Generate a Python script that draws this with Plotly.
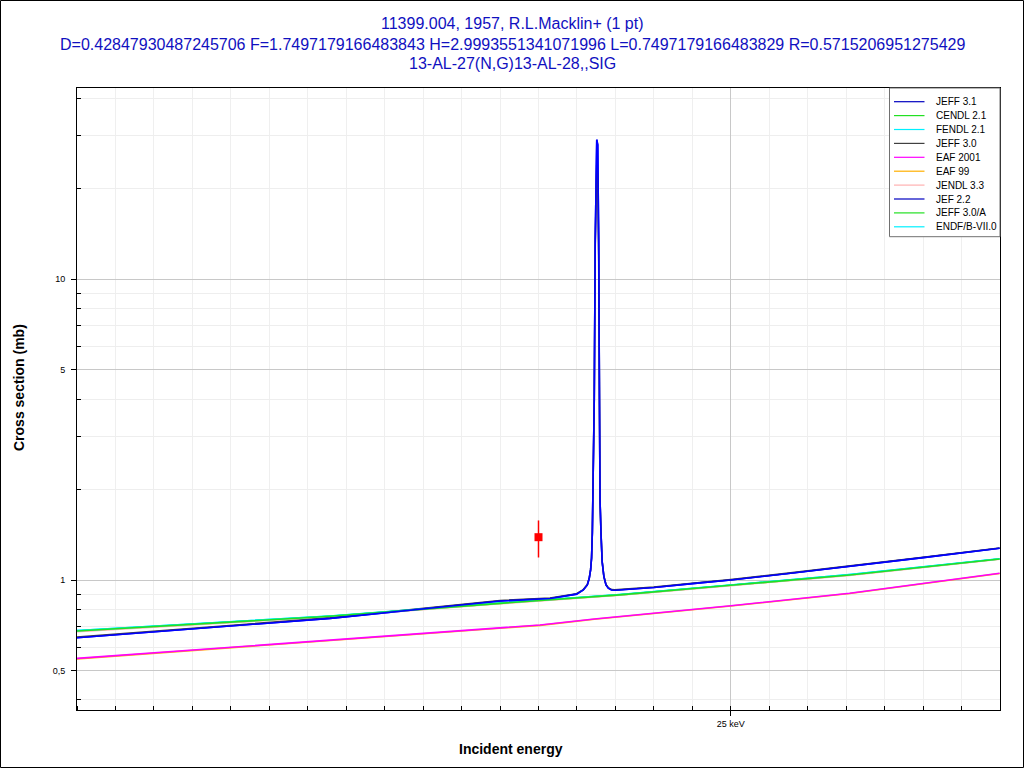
import plotly.graph_objects as go

# ---------------- data (energies in keV, cross sections in mb) ----------------
e_res = [21.6, 22.917, 23.8, 24.06, 24.198, 24.233, 24.254, 24.264, 24.271, 24.276,
         24.280, 24.283, 24.290, 24.295, 24.299, 24.303, 24.308, 24.313, 24.317, 24.320,
         24.325, 24.331, 24.340, 24.351, 24.363, 24.380, 24.397, 24.423, 24.60, 24.839,
         25.0, 25.30, 25.618, 26.0, 26.398]
jeff31_sig = [0.644, 0.747, 0.853, 0.870, 0.899, 0.928, 0.965, 1.015, 1.082, 1.186,
              1.436, 1.849, 4.0, 13.5, 25.0, 29.1, 28.0, 13.5, 4.0, 1.849,
              1.436, 1.153, 1.028, 0.965, 0.941, 0.928, 0.926, 0.928, 0.946, 0.980,
              1.002, 1.053, 1.110, 1.189, 1.277]
jeff30_sig = [0.647, 0.750, 0.856, 0.873, 0.902, 0.931, 0.968, 1.018, 1.085, 1.190,
              1.440, 1.850, 4.0, 13.0, 23.5, 24.0, 21.6, 12.0, 4.0, 1.850,
              1.440, 1.156, 1.031, 0.968, 0.944, 0.931, 0.929, 0.931, 0.949, 0.983,
              1.005, 1.056, 1.113, 1.192, 1.280]
jef22_sig = jeff31_sig

e_smooth = [21.6, 22.917, 23.8, 24.423, 25.0, 25.618, 26.398]
cendl21_sig = [0.678, 0.759, 0.838, 0.894, 0.962, 1.041, 1.177]
fendl21_sig = [0.680, 0.761, 0.840, 0.897, 0.964, 1.044, 1.179]
jendl33_sig = [0.675, 0.756, 0.835, 0.892, 0.959, 1.038, 1.174]
jeff30a_sig = [0.678, 0.759, 0.838, 0.894, 0.962, 1.041, 1.177]
endfb7_sig = [0.680, 0.761, 0.840, 0.897, 0.964, 1.044, 1.179]

e_eaf = [21.6, 22.917, 24.008, 24.29, 24.839, 25.0, 25.618, 26.398]
eaf2001_sig = [0.550, 0.633, 0.710, 0.7435, 0.803, 0.823, 0.905, 1.055]
eaf99_sig = [0.548, 0.631, 0.708, 0.742, 0.801, 0.821, 0.903, 1.053]

exp_e = [24.0]
exp_sig = [1.39]
exp_err_plus = [0.19]
exp_err_minus = [0.20]

series = [  # legend order
    ("JEFF 3.1", e_res, jeff31_sig, "#0000ff", "#0000c0"),
    ("CENDL 2.1", e_smooth, cendl21_sig, "#22e022", "#22e022"),
    ("FENDL 2.1", e_smooth, fendl21_sig, "#00f0ff", "#00f0ff"),
    ("JEFF 3.0", e_res, jeff30_sig, "#404040", "#404040"),
    ("EAF 2001", e_eaf, eaf2001_sig, "#ff00ff", "#ff00ff"),
    ("EAF 99", e_eaf, eaf99_sig, "#ffb000", "#ffb000"),
    ("JENDL 3.3", e_smooth, jendl33_sig, "#ffb0b0", "#ffb0b0"),
    ("JEF 2.2", e_res, jef22_sig, "#0000ff", "#0000c0"),
    ("JEFF 3.0/A", e_smooth, jeff30a_sig, "#22e022", "#22e022"),
    ("ENDF/B-VII.0", e_smooth, endfb7_sig, "#00f0ff", "#00f0ff"),
]

title_lines = [
    "11399.004, 1957, R.L.Macklin+ (1 pt)",
    "D=0.42847930487245706 F=1.7497179166483843 H=2.9993551341071996 L=0.7497179166483829 R=0.5715206951275429",
    "13-AL-27(N,G)13-AL-28,,SIG",
]

# ---------------- layout geometry ----------------
W, H = 1024, 768
ML, MR, MT, MB = 77, 24, 88, 58
PW, PH = W - ML - MR, H - MT - MB
FONT = "Liberation Sans, Arial, sans-serif"


def px(x):
    return (x - ML) / PW


def py(y):
    return (H - MB - y) / PH


fig = go.Figure()

# draw in reverse so the first legend entry is on top
for name, xs, ys, col, _ in reversed(series):
    fig.add_trace(go.Scatter(x=xs, y=ys, mode="lines", name=name,
                             line=dict(color=col, width=1.6), showlegend=False))

fig.add_trace(go.Scatter(
    x=exp_e, y=exp_sig, mode="markers", showlegend=False,
    marker=dict(symbol="square", size=8, color="#ff0000"),
    error_y=dict(type="data", array=exp_err_plus, arrayminus=exp_err_minus,
                 color="#ff0000", thickness=1.5, width=0),
))

shapes = []
annotations = []

# outer frame
shapes.append(dict(type="rect", xref="paper", yref="paper",
                   x0=px(0.5), x1=px(W - 0.5), y0=py(0.5), y1=py(H - 0.5),
                   line=dict(color="black", width=1), fillcolor="rgba(0,0,0,0)",
                   layer="above"))

# legend box
lx0, lx1, ly0, ly1 = 889.5, 1000, 88, 236.7
shapes.append(dict(type="rect", xref="paper", yref="paper",
                   x0=px(lx0), x1=px(lx1), y0=py(ly1), y1=py(ly0),
                   line=dict(color="#707070", width=1), fillcolor="white",
                   layer="above"))
for i, (name, _, _, _, lcol) in enumerate(series):
    yy = 101.7 + i * 13.9
    shapes.append(dict(type="line", xref="paper", yref="paper",
                       x0=px(894), x1=px(924.5), y0=py(yy), y1=py(yy),
                       line=dict(color=lcol, width=1.2), layer="above"))
    annotations.append(dict(text=name, xref="paper", yref="paper",
                            x=px(934), y=py(yy), xanchor="left", yanchor="middle",
                            showarrow=False, font=dict(family=FONT, size=10, color="black")))

# titles
for yy, t in zip([24, 44, 63], title_lines):
    annotations.append(dict(text=t, xref="paper", yref="paper", x=px(512), y=py(yy),
                            xanchor="center", yanchor="middle", showarrow=False,
                            font=dict(family=FONT, size=16, color="#1010c0")))

# axis titles
annotations.append(dict(text="<b>Incident energy</b>", xref="paper", yref="paper",
                        x=px(511), y=py(749), xanchor="center", yanchor="middle",
                        showarrow=False, font=dict(family=FONT, size=14, color="black")))
annotations.append(dict(text="<b>Cross section (mb)</b>", xref="paper", yref="paper",
                        x=px(19), y=py(388), xanchor="center", yanchor="middle",
                        textangle=-90, showarrow=False,
                        font=dict(family=FONT, size=14, color="black")))

fig.update_layout(
    width=W, height=H,
    margin=dict(l=ML, r=MR, t=MT, b=MB, pad=0),
    paper_bgcolor="white", plot_bgcolor="white",
    showlegend=False,
    shapes=shapes, annotations=annotations,
    font=dict(family=FONT, size=9, color="black"),
    xaxis=dict(
        range=[21.6, 26.4], tickmode="array", tickvals=[25], ticktext=["25 keV"],
        ticks="outside", ticklen=5, tickcolor="black", tickfont=dict(size=9),
        showgrid=True, gridcolor="#c8c8c8", gridwidth=1,
        showline=True, linecolor="black", linewidth=1, mirror=True, zeroline=False,
        minor=dict(tickmode="linear", tick0=21.6, dtick=0.2, ticks="inside", ticklen=4,
                   tickcolor="black", showgrid=True, gridcolor="#efefef"),
    ),
    yaxis=dict(
        type="log", range=[-0.4312, 1.6356], tickmode="array",
        tickvals=[0.5, 1, 5, 10], ticktext=["0,5", "1", "5", "10"],
        ticks="outside", ticklen=5, tickcolor="black", tickfont=dict(size=9),
        ticklabelstandoff=4,
        showgrid=True, gridcolor="#c8c8c8", gridwidth=1,
        showline=True, linecolor="black", linewidth=1, mirror=True, zeroline=False,
        minor=dict(tickmode="array",
                   tickvals=[0.4, 0.6, 0.7, 0.8, 0.9, 2, 3, 4, 6, 7, 8, 9, 20, 30, 40],
                   ticks="inside", ticklen=4, tickcolor="black",
                   showgrid=True, gridcolor="#eeeeee"),
    ),
)

fig.write_html("out.html", config={"displayModeBar": False},
               post_script="document.body.style.margin='0';")
